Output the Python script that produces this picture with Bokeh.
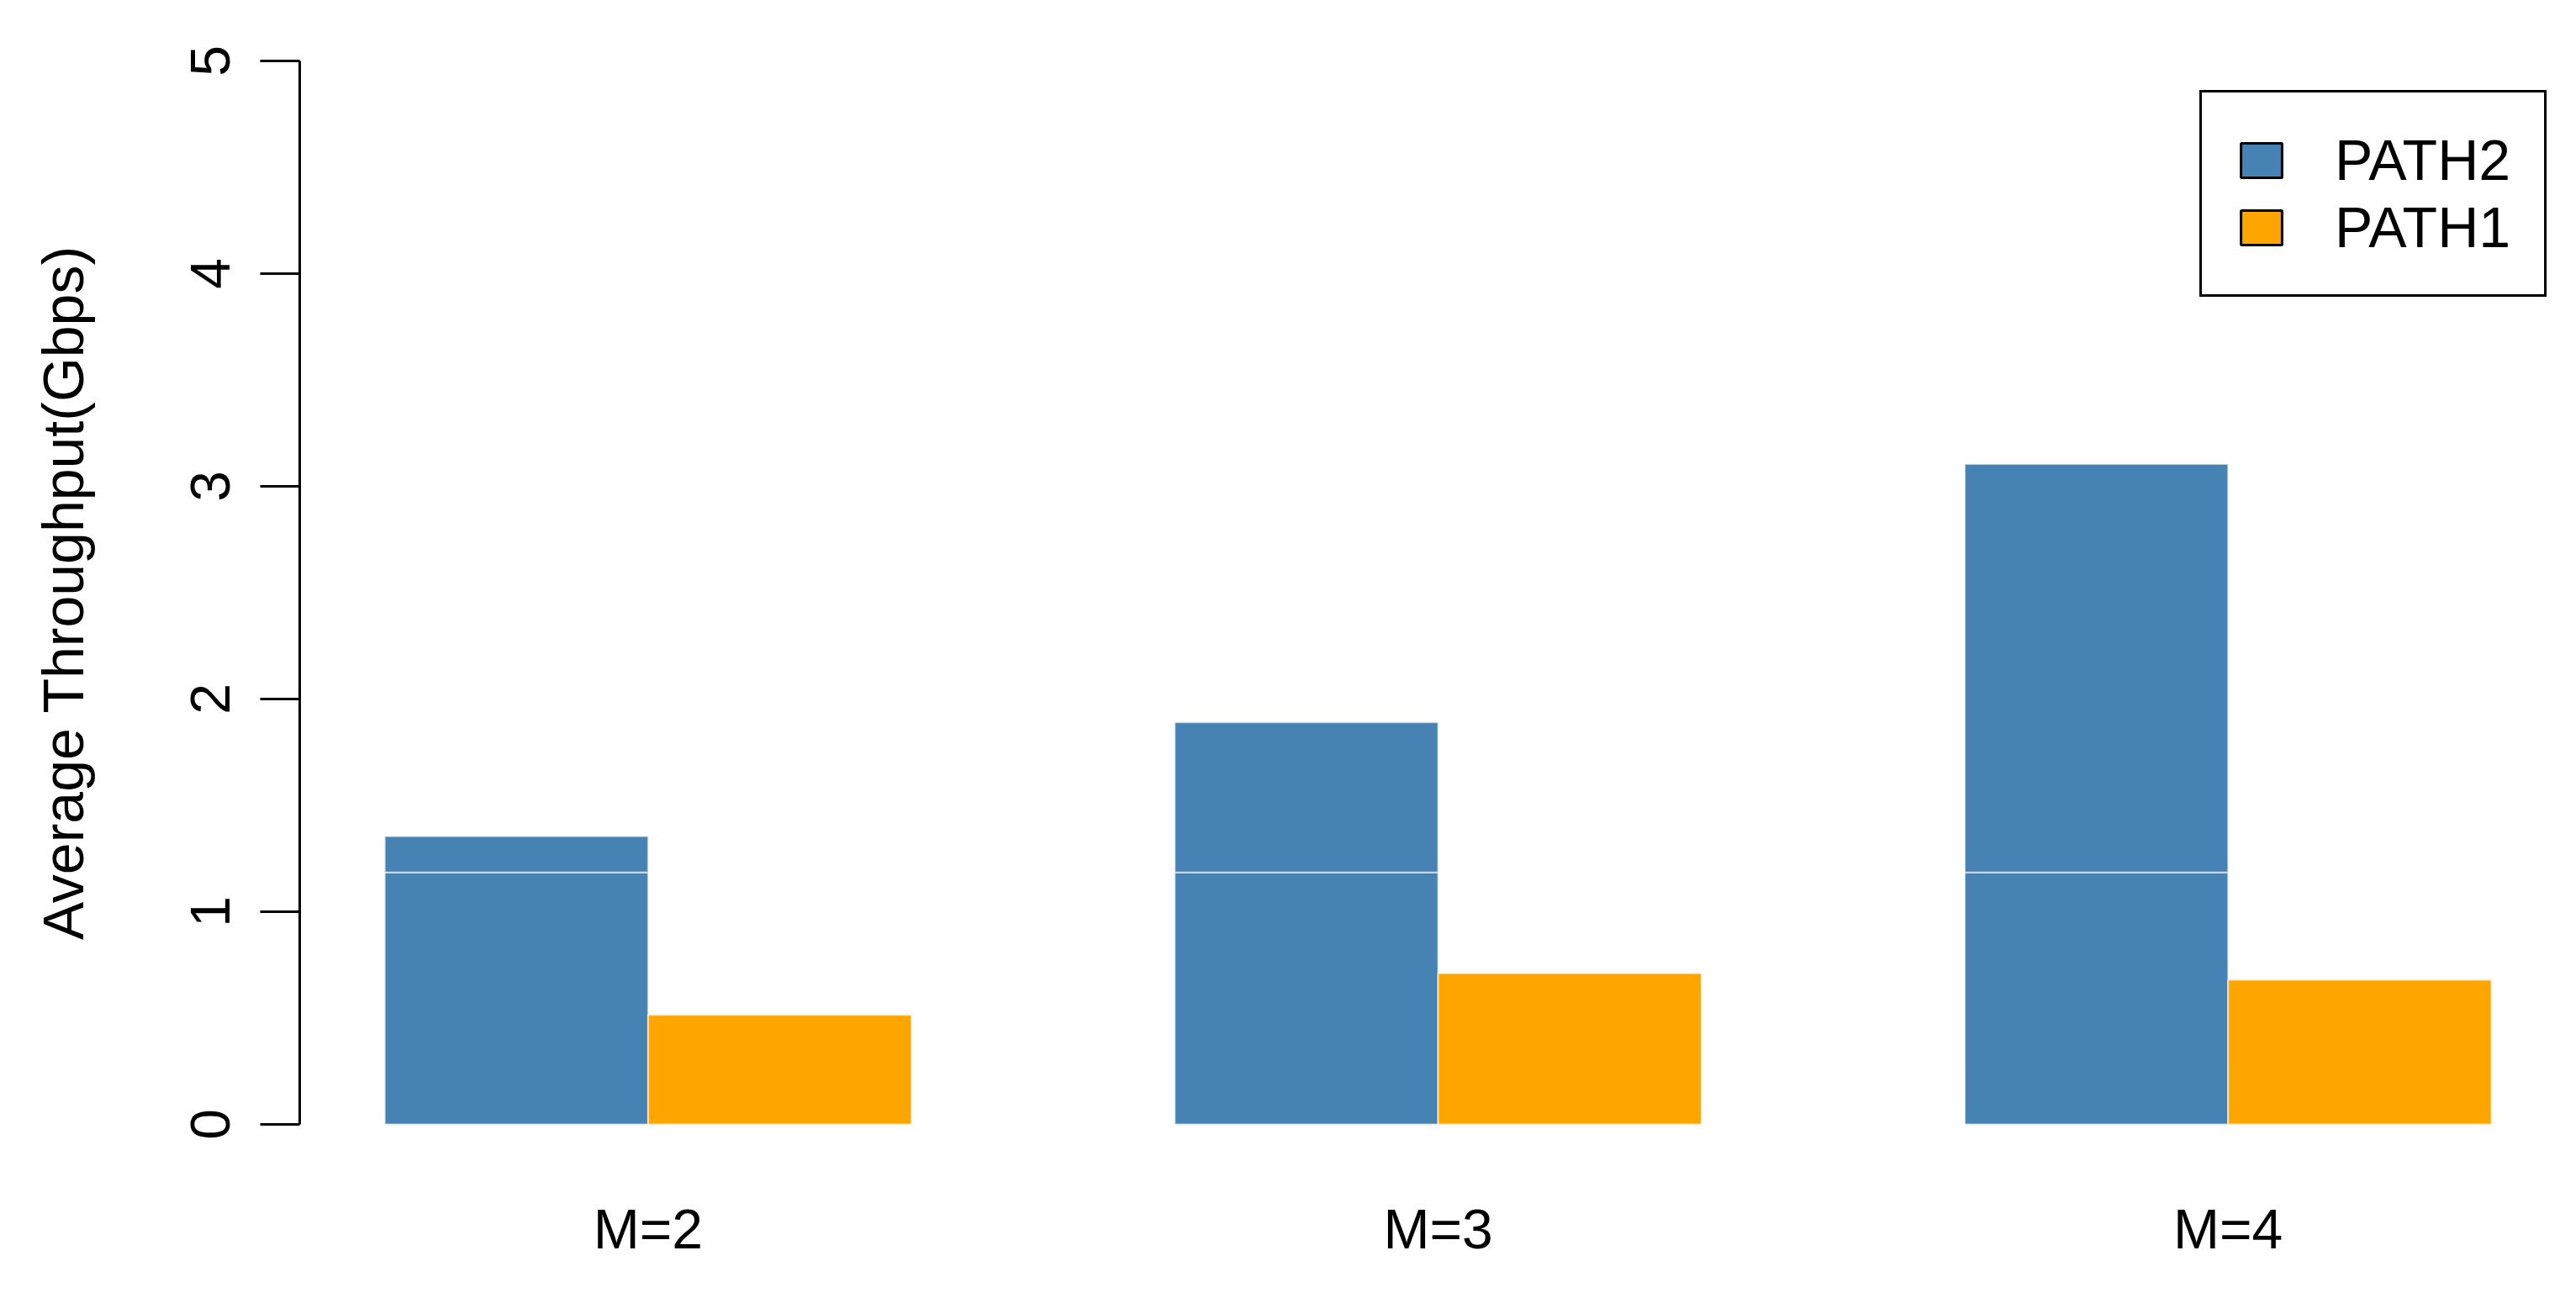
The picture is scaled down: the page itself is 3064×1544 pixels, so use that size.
from bokeh.plotting import figure
from bokeh.models import Range1d, FixedTicker, Legend, LegendItem, ColumnDataSource
from bokeh.embed import file_html
from bokeh.resources import INLINE

# ---- data ----
groups = ["M=2", "M=3", "M=4"]
series = ["PATH2", "PATH1"]
path2 = [1.355, 1.89, 3.105]
path2_lower = [1.185, 1.185, 1.185]
path1 = [0.515, 0.71, 0.68]
y_ticks = [0, 1, 2, 3, 4, 5]
colors = {"PATH2": "#4682B4", "PATH1": "#FFA500"}

FONT = "Liberation Sans"

# R barplot(beside=TRUE) layout: bars of width 1, one bar gap between groups
n_series = len(series)
gap = 1
centers = [gap + i * (n_series + gap) + n_series / 2 for i in range(len(groups))]
x_p2 = [c - 0.5 for c in centers]
x_p1 = [c + 0.5 for c in centers]

src2 = ColumnDataSource(dict(x=x_p2, top=path2, lower=path2_lower, zero=[0] * len(groups)))
src1 = ColumnDataSource(dict(x=x_p1, top=path1, zero=[0] * len(groups)))

p = figure(width=3050, height=1520, output_backend="svg", toolbar_location=None,
           x_range=Range1d(0.677, 9.278), y_range=Range1d(0, 5),
           min_border_left=356, min_border_right=0, min_border_top=72, min_border_bottom=183)
p.outline_line_color = None
p.grid.visible = False
p.background_fill_color = "white"

# blue bars drawn as two stacked segments (as in the reference)
p.vbar(x="x", bottom="zero", top="lower", width=1, source=src2,
       fill_color=colors["PATH2"], line_color="white", line_width=2, line_alpha=0.6)
p.vbar(x="x", bottom="lower", top="top", width=1, source=src2,
       fill_color=colors["PATH2"], line_color="white", line_width=2, line_alpha=0.6)
p.vbar(x="x", bottom="zero", top="top", width=1, source=src1,
       fill_color=colors["PATH1"], line_color="white", line_width=2, line_alpha=0.6)

# legend proxies (black outlined swatches): placed on a range far outside the frame
p.extra_y_ranges = {"proxy": Range1d(100, 101)}
d2 = p.rect(x="x", y="zero", width=1, height=1, source=src2, y_range_name="proxy",
            fill_color=colors["PATH2"], line_color="black", line_width=3)
d1 = p.rect(x="x", y="zero", width=1, height=1, source=src1, y_range_name="proxy",
            fill_color=colors["PATH1"], line_color="black", line_width=3)
legend = Legend(items=[LegendItem(label=series[0], renderers=[d2]),
                       LegendItem(label=series[1], renderers=[d1])],
                location=(2260, 984), margin=0, padding=40, spacing=0,
                glyph_width=61, glyph_height=51, label_standoff=57, label_height=80,
                label_text_font=FONT, label_text_font_size="68px", label_text_color="black",
                border_line_color="black", border_line_width=3, border_line_alpha=1,
                background_fill_color="white", background_fill_alpha=1)
p.add_layout(legend, "center")

# x axis: labels only
p.xaxis.ticker = FixedTicker(ticks=centers)
p.xaxis.major_label_overrides = {c: g for c, g in zip(centers, groups)}
p.xaxis.axis_line_color = None
p.xaxis.major_tick_line_color = None
p.xaxis.minor_tick_line_color = None
p.xaxis.major_label_standoff = 81
p.xaxis.major_label_text_font = FONT
p.xaxis.major_label_text_font_size = "66px"
p.xaxis.major_label_text_color = "black"

# y axis
p.yaxis.ticker = FixedTicker(ticks=y_ticks)
p.yaxis.axis_line_width = 3
p.yaxis.axis_line_color = "black"
p.yaxis.major_tick_line_width = 3
p.yaxis.major_tick_line_color = "black"
p.yaxis.major_tick_out = 47
p.yaxis.major_tick_in = 0
p.yaxis.minor_tick_line_color = None
p.yaxis.major_label_orientation = "vertical"
p.yaxis.major_label_standoff = 37
p.yaxis.major_label_text_font = FONT
p.yaxis.major_label_text_font_size = "66px"
p.yaxis.major_label_text_color = "black"
p.yaxis.axis_label = "Average Throughput(Gbps)"
p.yaxis.axis_label_text_font = FONT
p.yaxis.axis_label_text_font_size = "68px"
p.yaxis.axis_label_text_font_style = "normal"
p.yaxis.axis_label_text_color = "black"
p.yaxis.axis_label_standoff = 111

open("out.html", "w").write(file_html(p, INLINE))
